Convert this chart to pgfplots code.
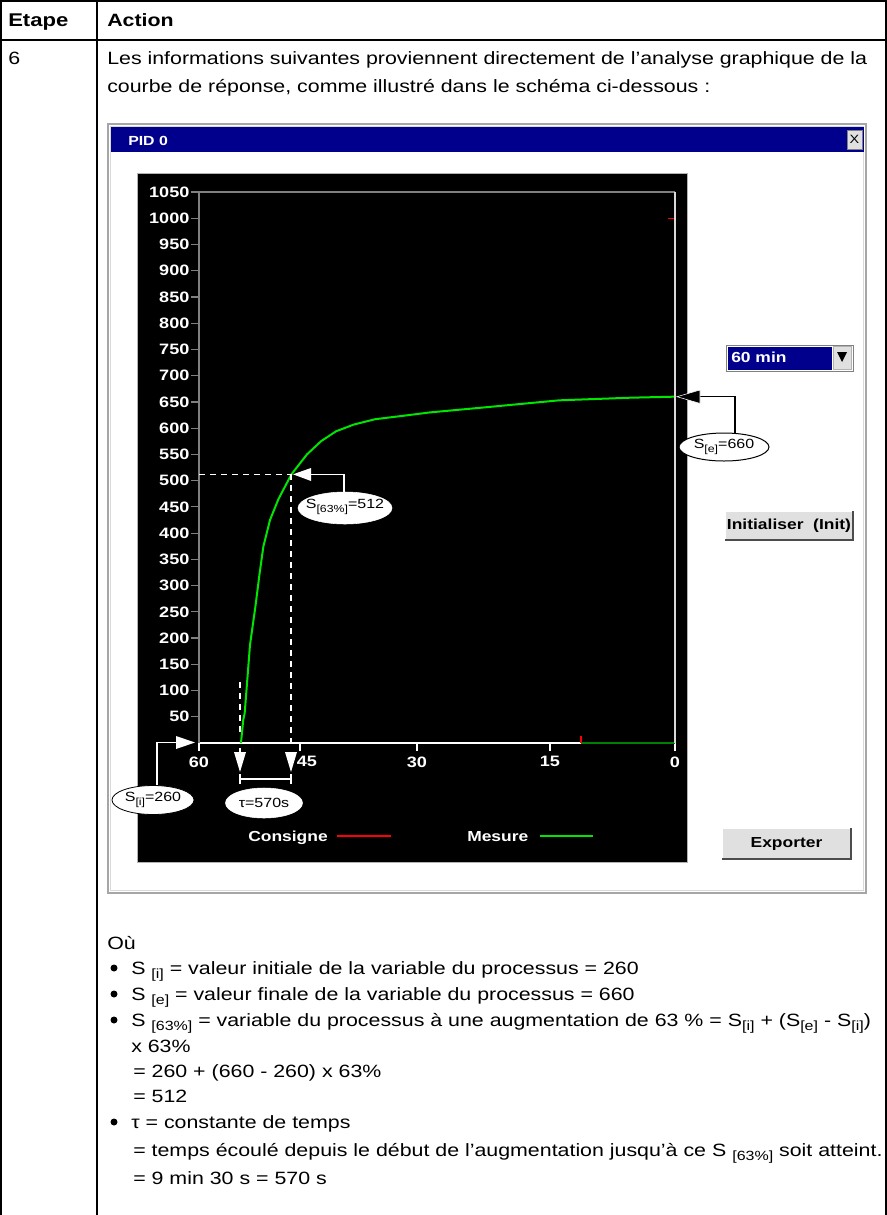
\documentclass[border=0pt]{standalone}
\usepackage{fontspec}
\setmainfont{Liberation Sans}[FakeStretch=1.2]
\usepackage{pgfplots}
\pgfplotsset{compat=1.18}
\definecolor{navy}{RGB}{0,0,140}
\definecolor{curve}{RGB}{0,230,0}
\definecolor{dgreen}{RGB}{0,128,0}
\definecolor{btn}{RGB}{224,224,224}
\newcommand\body{\fontsize{13.35pt}{16pt}\selectfont}
\newcommand\sub[1]{\raisebox{-3pt}{\fontsize{10pt}{10pt}\selectfont #1}}
\newcommand\cf{\bfseries\fontsize{10.9pt}{12pt}\selectfont}
\newcommand\tf{\bfseries\fontsize{11.3pt}{12pt}\selectfont}
\newcommand\ef{\fontsize{10pt}{11pt}\selectfont}
\newcommand\esub[1]{\raisebox{-2.5pt}{\fontsize{7.7pt}{8pt}\selectfont #1}}
\begin{document}
\begin{tikzpicture}
\begin{scope}[x=0.75pt,y=-0.75pt]
\useasboundingbox (0,0) rectangle (887,1215);
% ---- table frame
\draw[line width=0.9pt] (1,1215) -- (1,1) -- (886,1) -- (886,1215);
\draw[line width=0.9pt] (1,40) -- (886,40);
\draw[line width=0.9pt] (97,1) -- (97,1215);
\node[anchor=base west,inner sep=0] at (8,26) {\fontsize{13.8pt}{16pt}\selectfont\bfseries Etape};
\node[anchor=base west,inner sep=0] at (107,26) {\body\bfseries Action};
\node[anchor=base west,inner sep=0] at (8,64) {\body 6};
\node[anchor=base west,inner sep=0] at (107,64) {\body Les informations suivantes proviennent directement de l’analyse graphique de la};
\node[anchor=base west,inner sep=0] at (107,92) {\body courbe de réponse, comme illustré dans le schéma ci-dessous :};
% ---- window
\filldraw[fill=white, draw=gray!70, line width=1.2pt] (108,124) rectangle (866,893);
\draw[gray!30, line width=0.75pt] (110.5,126.5) rectangle (863.5,890.5);
\fill[navy] (111,127) rectangle (864,152);
\node[anchor=base west,inner sep=0,text=white] at (128,145) {\bfseries\fontsize{9.9pt}{11pt}\selectfont PID 0};
\filldraw[fill=btn, draw=gray] (847,130) rectangle (862,149);
\node[inner sep=0] at (854.5,139.5) {\fontsize{9pt}{9pt}\selectfont X};
% black panel
\filldraw[fill=black, draw=gray!60, line width=0.75pt] (137,173) rectangle (687,862);
\end{scope}
% ---- chart
\begin{axis}[
  at={(149.25pt,-557.25pt)}, anchor=south west,
  scale only axis, width=357pt, height=413.25pt,
  xmin=0, xmax=60, x dir=reverse,
  ymin=0, ymax=1050,
  axis x line*=bottom, axis y line*=left,
  x axis line style={draw=white, line width=1.1pt, -},
  y axis line style={draw=gray, line width=1.1pt, -},
  xtick={60,47.27,32.52,15.76,0},
  xticklabels={60,{\hspace*{10.5pt}45},30,15,0},
  ytick={50,100,...,1050},
  tick align=outside,
  major tick length=6pt,
  xtick style={draw=white, line width=0.9pt},
  ytick style={draw=gray, line width=0.9pt},
  tick label style={font=\tf, text=white},
  yticklabel style={inner sep=1pt},
  xticklabel style={inner sep=4pt},
  /pgf/number format/1000 sep={},
  /pgf/number format/assume math mode=true,
  clip=false,
]
\addplot[curve, line width=1.5pt] coordinates {
(54.71,0) (54.42,44) (54.24,57) (53.57,187) (52.89,260) (52.37,322) (51.89,374)
(51.05,425) (49.98,465) (48.35,512) (46.39,550) (44.62,575) (42.73,594) (40.46,607)
(37.81,617) (34.03,624) (30.88,630) (23.70,640) (14.62,653) (5.67,658) (0,660)};
\addplot[dgreen, line width=1.1pt] coordinates {(11.85,0) (0,0)};
\addplot[red, line width=1.1pt] coordinates {(11.85,0) (11.85,13)};
\addplot[red, line width=1.1pt] coordinates {(0.9,1000) (0.1,1000)};
\draw[gray, line width=1.1pt] (axis cs:60,1050) -- (axis cs:0,1050);
\draw[gray!30, line width=1.1pt] (axis cs:0,1050) -- (axis cs:0,0);
\end{axis}
\begin{scope}[x=0.75pt,y=-0.75pt]
% ---- annotations inside chart
\begin{scope}[white, line width=1.1pt]
\draw[dash pattern=on 4.5pt off 3.75pt] (199,474.3) -- (291,474.3);
\draw[dash pattern=on 4.5pt off 3.75pt] (291,474.3) -- (291,748);
\draw[dash pattern=on 4.5pt off 3.75pt] (240,682) -- (240,736);
\fill (285,752) -- (297,752) -- (291,772) -- cycle;
\fill (234,752) -- (246,752) -- (240,772) -- cycle;
\draw (240,748) -- (240,752);
\draw (240,779) -- (291,779);
\draw (240,774) -- (240,784);
\draw (291,774) -- (291,784);
% S63
\draw (344,492) -- (344,474.3) -- (311,474.3);
\fill (311,468) -- (311,481) -- (293,474.3) -- cycle;
% S[i]
\draw (157,786) -- (157,742.5) -- (178,742.5);
\end{scope}
\fill[white] (176,736) -- (176,749) -- (195,742.5) -- cycle;
\filldraw[fill=white, draw=black, line width=0.6pt] (153,800) ellipse [x radius=41, y radius=14.5];
\node[inner sep=0] at (153,800) {\ef S\esub{[i]}=260};
\filldraw[fill=white, draw=white] (264,803) ellipse [x radius=38.5, y radius=15];
\node[inner sep=0] at (264,803) {\ef τ=570s};
\filldraw[fill=white, draw=white] (345,508) ellipse [x radius=47, y radius=16];
\node[inner sep=0] at (345,507) {\ef S\esub{[63\%]}=512};
% S[e]
\draw[black, line width=1.1pt] (735,434) -- (735,396.7) -- (699,396.7);
\filldraw[fill=black, draw=white, line width=0.4pt] (700,390) -- (700,403.4) -- (677,396.7) -- cycle;
\filldraw[fill=white, draw=black, line width=0.75pt] (724,447) ellipse [x radius=45, y radius=14];
\node[inner sep=0] at (724,447) {\ef S\esub{[e]}=660};
% legend
\node[anchor=base west,inner sep=0,text=white] at (248,841) {\cf Consigne};
\draw[red, line width=1.5pt] (337,836) -- (391,836);
\node[anchor=base west,inner sep=0,text=white] at (467,841) {\cf Mesure};
\draw[curve, line width=1.5pt] (540,836) -- (593,836);
% ---- right controls
\draw[gray, line width=0.75pt] (726,345) rectangle (853,371);
\fill[navy] (727.5,346.5) rectangle (832,369.5);
\node[anchor=base west,inner sep=0,text=white] at (731,362) {\cf 60 min};
\filldraw[fill=btn, draw=gray!60] (833,346.5) rectangle (851.5,369.5);
\fill[black] (837,352) -- (847,352) -- (842,362) -- cycle;
\fill[btn] (725,511) rectangle (853,540);
\draw[white, line width=1pt] (725,540) -- (725,511) -- (853,511);
\draw[black!70, line width=1.2pt] (853,511) -- (853,540) -- (725,540);
\node[inner sep=0] at (789,525.5) {\cf Initialiser\ \ (Init)};
\fill[btn] (722,828) rectangle (851,859);
\draw[white, line width=1pt] (722,859) -- (722,828) -- (851,828);
\draw[black!70, line width=1.2pt] (851,828) -- (851,859) -- (722,859);
\node[inner sep=0] at (786.5,843.5) {\cf Exporter};
% ---- text below
\node[anchor=base west,inner sep=0] at (107,949) {\body Où};
\fill (114,968) circle [radius=3.5];
\node[anchor=base west,inner sep=0] at (131,974) {\body S \sub{[i]} = valeur initiale de la variable du processus = 260};
\fill (114,994) circle [radius=3.5];
\node[anchor=base west,inner sep=0] at (131,1000) {\body S \sub{[e]} = valeur finale de la variable du processus = 660};
\fill (114,1020) circle [radius=3.5];
\node[anchor=base west,inner sep=0] at (131,1026) {\body S \sub{[63\%]} = variable du processus à une augmentation de 63 \% = S\sub{[i]} + (S\sub{[e]} - S\sub{[i]})};
\node[anchor=base west,inner sep=0] at (131,1052) {\body x 63\%};
\node[anchor=base west,inner sep=0] at (133,1077) {\body = 260 + (660 - 260) x 63\%};
\node[anchor=base west,inner sep=0] at (133,1102) {\body = 512};
\fill (114,1122) circle [radius=3.5];
\node[anchor=base west,inner sep=0] at (131,1128) {\body τ = constante de temps};
\node[anchor=base west,inner sep=0] at (133,1156) {\body = temps écoulé depuis le début de l’augmentation jusqu’à ce S \sub{[63\%]} soit atteint.};
\node[anchor=base west,inner sep=0] at (133,1184) {\body = 9 min 30 s = 570 s};
\end{scope}
\end{tikzpicture}
\end{document}
